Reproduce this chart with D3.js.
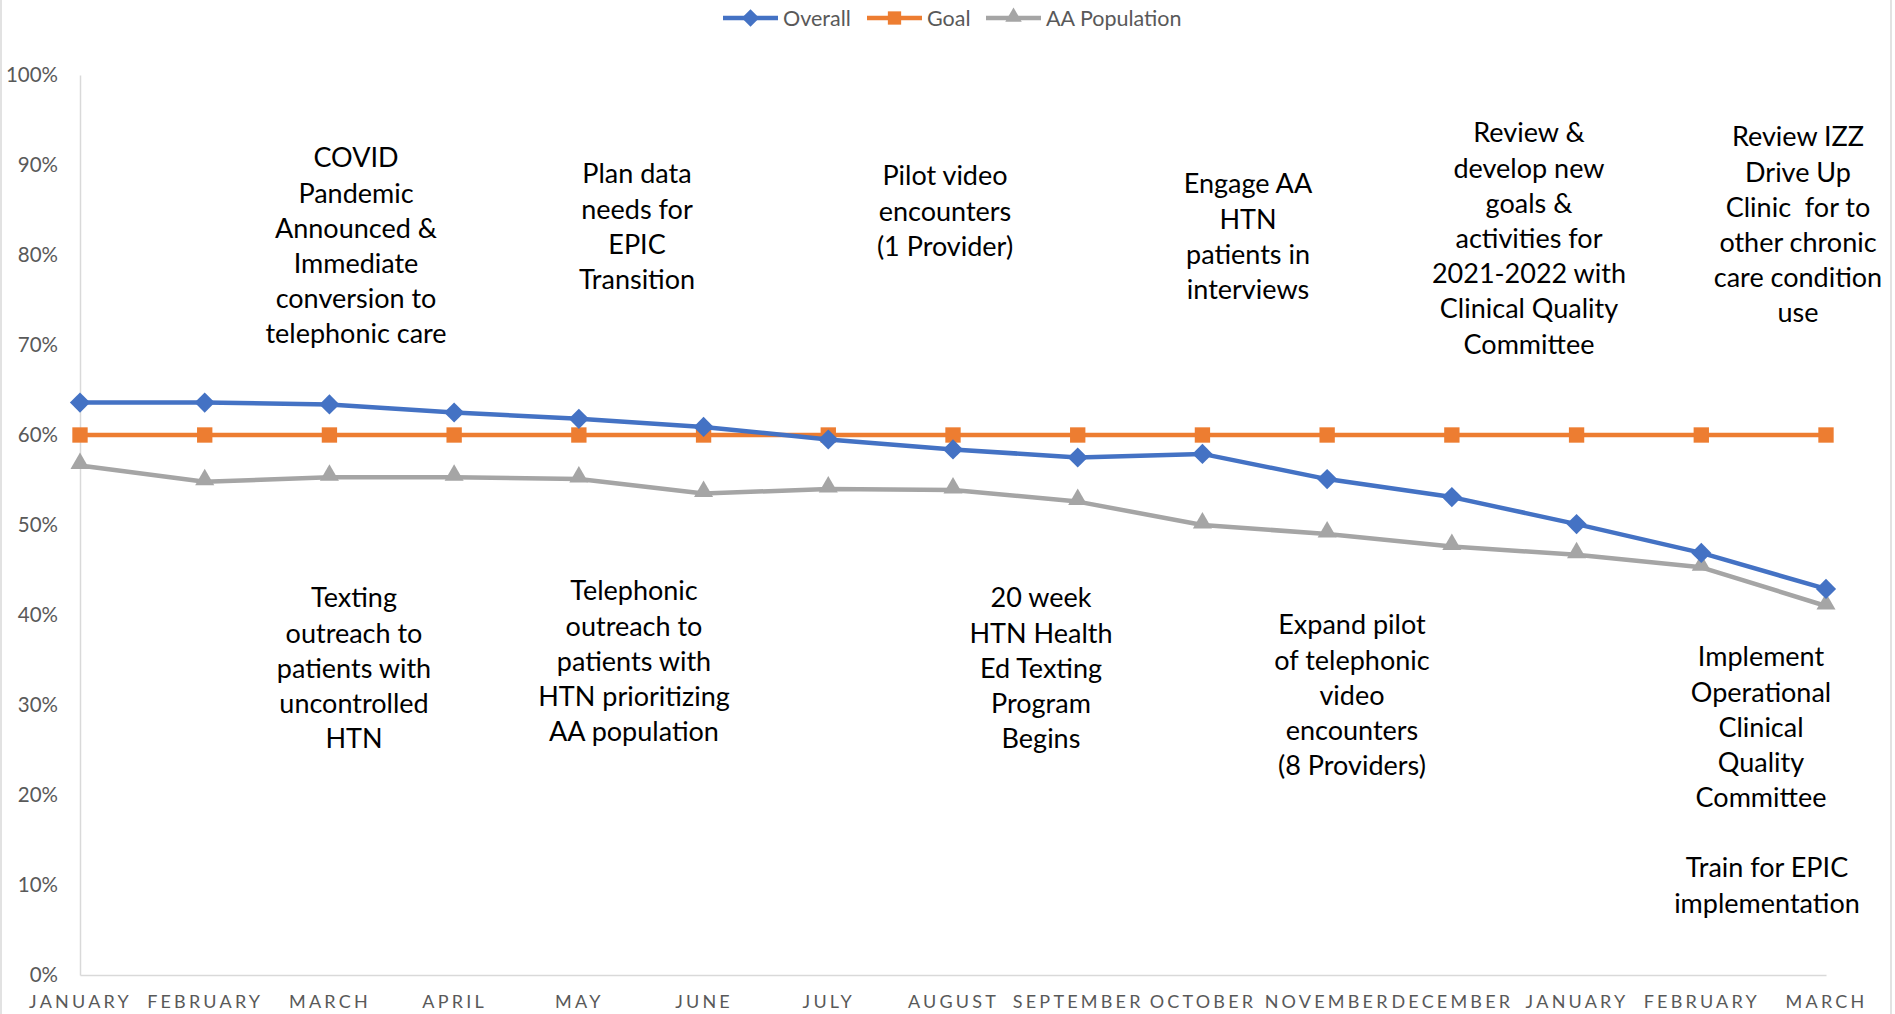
<!DOCTYPE html>
<html>
<head>
<meta charset="utf-8">
<script src="https://cdn.jsdelivr.net/npm/d3@7"></script>
<style>
  html, body { margin: 0; padding: 0; background: #fff; }
  svg { display: block; font-family: Lato, "Open Sans", sans-serif; }
</style>
</head>
<body>
<script>
// Monthly HTN control rate, Jan 2020 – Mar 2021
const months = ["JANUARY", "FEBRUARY", "MARCH", "APRIL", "MAY", "JUNE", "JULY", "AUGUST",
  "SEPTEMBER", "OCTOBER", "NOVEMBER", "DECEMBER", "JANUARY", "FEBRUARY", "MARCH"];
const overall = [63.6, 63.6, 63.4, 62.5, 61.8, 60.9, 59.5, 58.4, 57.5, 57.9, 55.1, 53.1, 50.1, 46.9, 42.9];
const goal = [60, 60, 60, 60, 60, 60, 60, 60, 60, 60, 60, 60, 60, 60, 60];
const aaPopulation = [56.6, 54.8, 55.3, 55.3, 55.1, 53.5, 54.0, 53.9, 52.6, 50.0, 49.0, 47.6, 46.7, 45.3, 41.0];
const yTicks = [0, 10, 20, 30, 40, 50, 60, 70, 80, 90, 100];
const seriesNames = ["Overall", "Goal", "AA Population"];

// Activity notes shown above and below the lines
const notesAbove = [
  ["COVID", "Pandemic", "Announced &", "Immediate", "conversion to", "telephonic care"],
  ["Plan data", "needs for", "EPIC", "Transition"],
  ["Pilot video", "encounters", "(1 Provider)"],
  ["Engage AA", "HTN", "patients in", "interviews"],
  ["Review &", "develop new", "goals &", "activities for", "2021-2022 with", "Clinical Quality", "Committee"],
  ["Review IZZ", "Drive Up", "Clinic  for to", "other chronic", "care condition", "use"]
];
const notesBelow = [
  ["Texting", "outreach to", "patients with", "uncontrolled", "HTN"],
  ["Telephonic", "outreach to", "patients with", "HTN prioritizing", "AA population"],
  ["20 week", "HTN Health", "Ed Texting", "Program", "Begins"],
  ["Expand pilot", "of telephonic", "video", "encounters", "(8 Providers)"],
  ["Implement", "Operational", "Clinical", "Quality", "Committee"],
  ["Train for EPIC", "implementation"]
];

const W = 1895, H = 1014;
const margin = { left: 80, right: 69, top: 75, bottom: 39 };

const svg = d3.select("body").append("svg").attr("width", W).attr("height", H);

// chart frame
svg.append("rect").attr("x", 1).attr("y", -2).attr("width", 1890).attr("height", H + 4)
  .attr("fill", "none").attr("stroke", "#d9d9d9").attr("stroke-width", 1.5);

const x = d3.scalePoint().domain(d3.range(months.length)).range([margin.left, W - margin.right]);
const y = d3.scaleLinear().domain([0, 100]).range([H - margin.bottom, margin.top]);

// axes
const yAxis = svg.append("g").attr("transform", `translate(${margin.left},0)`)
  .call(d3.axisLeft(y).tickValues(yTicks).tickFormat(d => d + "%").tickSize(0).tickPadding(22));
yAxis.select(".domain").attr("stroke", "#d9d9d9").attr("stroke-width", 1.5);
yAxis.selectAll("text").attr("fill", "#595959").style("font-size", "20.5px")
  .style("font-family", "Lato, sans-serif");

const xAxis = svg.append("g").attr("transform", `translate(0,${y(0)})`)
  .call(d3.axisBottom(x).tickFormat(i => months[i]).tickSize(0).tickPadding(20));
xAxis.select(".domain").attr("stroke", "#d9d9d9").attr("stroke-width", 1.5);
xAxis.selectAll("text").attr("fill", "#595959").style("font-size", "18px")
  .style("letter-spacing", "3.2px").style("font-family", "Lato, sans-serif");

// series
const colors = { "Overall": "#4472C4", "Goal": "#ED7D31", "AA Population": "#A5A5A5" };
const values = { "Overall": overall, "Goal": goal, "AA Population": aaPopulation };
const symbols = { "Overall": d3.symbolDiamond2, "Goal": d3.symbolSquare2, "AA Population": d3.symbolTriangle2 };
const symSize = { "Overall": 260, "Goal": 300, "AA Population": 260 };

const line = d3.line().x((d, i) => x(i)).y(d => y(d));

["Goal", "AA Population", "Overall"].forEach(name => {
  const g = svg.append("g");
  g.append("path").datum(values[name]).attr("d", line)
    .attr("fill", "none").attr("stroke", colors[name]).attr("stroke-width", 4.5)
    .attr("stroke-linejoin", "round");
  g.selectAll("path.m").data(values[name]).join("path").attr("class", "m")
    .attr("transform", (d, i) => `translate(${x(i)},${y(d) + (name === "AA Population" ? -2 : 0)})`)
    .attr("d", d3.symbol().type(symbols[name]).size(symSize[name]))
    .attr("fill", colors[name]);
});

// legend
const legendX = [723, 867, 986];
const legend = svg.append("g");
seriesNames.forEach((name, k) => {
  const lx = legendX[k], ly = 18;
  legend.append("line").attr("x1", lx).attr("x2", lx + 55).attr("y1", ly).attr("y2", ly)
    .attr("stroke", colors[name]).attr("stroke-width", 4.5);
  legend.append("path").attr("transform", `translate(${lx + 27.5},${ly - (name === "AA Population" ? 1 : 0)})`)
    .attr("d", d3.symbol().type(symbols[name]).size(symSize[name] * 0.75)).attr("fill", colors[name]);
  legend.append("text").attr("x", lx + 60).attr("y", ly).attr("dy", "0.35em")
    .attr("fill", "#595959").style("font-size", "21.5px").text(name);
});

// notes
const aboveAt = [[356, 158], [637, 174], [945, 176], [1248, 184], [1529, 133], [1798, 137]];
const belowAt = [[354, 598], [634, 591], [1041, 598], [1352, 625], [1761, 657], [1767, 868]];
const lineGap = 35.2;
function drawNote(lines, pos) {
  const t = svg.append("text").attr("x", pos[0]).attr("y", pos[1])
    .attr("text-anchor", "middle").attr("fill", "#000").style("font-size", "27px")
    .style("white-space", "pre");
  lines.forEach((s, i) => {
    t.append("tspan").attr("x", pos[0]).attr("y", pos[1] + i * lineGap).attr("dy", "0.35em").text(s);
  });
}
notesAbove.forEach((n, i) => drawNote(n, aboveAt[i]));
notesBelow.forEach((n, i) => drawNote(n, belowAt[i]));
</script>
</body>
</html>
